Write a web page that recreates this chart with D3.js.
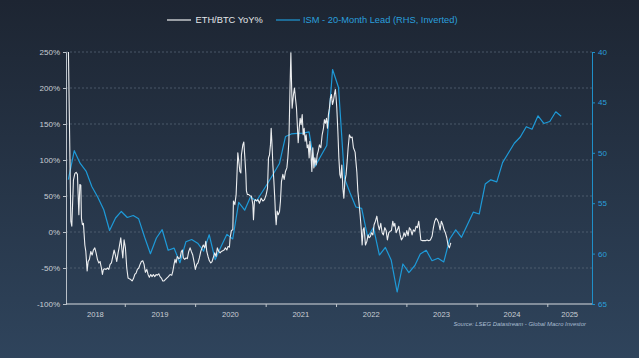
<!DOCTYPE html>
<html><head><meta charset="utf-8">
<script src="https://cdn.jsdelivr.net/npm/d3@7/dist/d3.min.js"></script>
<style>html,body{margin:0;padding:0;background:#26344a;}svg{display:block;}</style>
</head><body><svg id="c" width="639" height="358"></svg>
<script>
// ---- Data ----
const leftTicks = [-100, -50, 0, 50, 100, 150, 200, 250];
const rightTicks = [40, 45, 50, 55, 60, 65];
const yearLabels = [2018, 2019, 2020, 2021, 2022, 2023, 2024, 2025];

// ETH/BTC YoY% (dates as decimal years)
const ethDates = [
2018.199,2018.233,2018.247,2018.270,2018.290,2018.308,2018.327,2018.347,2018.361,2018.375,2018.384,2018.398,2018.412,2018.432,2018.446,2018.465,2018.479,2018.497,2018.517,2018.536,2018.554,2018.574,2018.592,2018.611,2018.631,2018.649,2018.668,2018.682,2018.696,2018.716,2018.734,2018.753,2018.773,2018.791,2018.810,2018.830,2018.848,2018.867,2018.886,2018.905,2018.919,2018.943,2018.957,2018.972,2018.990,
2019.009,2019.028,2019.047,2019.065,2019.085,2019.104,2019.122,2019.142,2019.161,2019.179,2019.199,2019.217,2019.236,2019.256,2019.274,2019.293,2019.313,2019.331,2019.349,2019.369,2019.388,2019.406,2019.426,2019.445,2019.463,2019.483,2019.501,2019.520,2019.540,2019.558,2019.597,2019.619,2019.644,2019.668,2019.682,2019.700,2019.714,2019.729,2019.747,2019.767,2019.786,2019.804,2019.818,2019.832,2019.852,2019.871,2019.889,2019.909,2019.928,2019.946,2019.966,2019.984,
2020.003,2020.023,2020.041,2020.060,2020.080,2020.098,2020.116,2020.136,2020.151,2020.165,2020.183,2020.202,2020.222,2020.240,2020.259,2020.278,2020.297,2020.315,2020.335,2020.354,2020.372,2020.392,2020.411,2020.429,2020.449,2020.467,2020.486,2020.496,2020.514,2020.534,2020.543,2020.563,2020.581,2020.591,2020.605,2020.619,2020.634,2020.648,2020.656,2020.676,2020.690,2020.705,2020.719,2020.727,2020.741,2020.761,2020.780,2020.798,2020.818,2020.827,2020.841,2020.855,2020.875,2020.889,2020.912,2020.936,2020.960,2020.983,
2021.007,2021.026,2021.040,2021.054,2021.068,2021.078,2021.092,2021.102,2021.117,2021.131,2021.139,2021.149,2021.163,2021.178,2021.196,2021.210,2021.224,2021.244,2021.263,2021.281,2021.301,2021.315,2021.330,2021.338,2021.348,2021.358,2021.367,2021.376,2021.395,2021.409,2021.423,2021.438,2021.452,2021.462,2021.476,2021.490,2021.504,2021.519,2021.533,2021.547,2021.561,2021.575,2021.590,2021.604,2021.618,2021.628,2021.642,2021.656,2021.670,2021.685,2021.699,2021.717,2021.732,2021.746,2021.764,2021.784,2021.803,2021.821,2021.835,2021.849,2021.864,2021.878,2021.892,2021.906,2021.920,2021.935,2021.949,2021.963,2021.977,2021.991,
2022.001,2022.011,2022.026,2022.040,2022.054,2022.068,2022.082,2022.097,2022.111,2022.125,2022.143,2022.158,2022.172,2022.190,2022.210,2022.229,2022.247,2022.271,2022.296,2022.310,2022.324,2022.342,2022.357,2022.371,2022.385,2022.399,2022.418,2022.438,2022.456,2022.470,2022.489,2022.503,2022.523,2022.541,2022.560,2022.580,2022.598,2022.616,2022.636,2022.655,2022.673,2022.693,2022.712,2022.730,2022.750,2022.768,2022.787,2022.807,2022.821,2022.835,2022.854,2022.872,2022.892,2022.911,2022.929,2022.949,2022.967,2022.986,
2023.006,2023.024,2023.043,2023.063,2023.081,2023.099,2023.119,2023.138,2023.156,2023.176,2023.190,2023.205,2023.223,2023.247,2023.270,2023.294,2023.318,2023.341,2023.365,2023.384,2023.403,2023.422,2023.440,2023.460,2023.479,2023.497,2023.517,2023.536,2023.554,2023.574,2023.592,2023.611,2023.631
];
const ethValues = [
250,15,8,72,81,83,80,24,66,65,19,10,12,-18,-27,-54,-41,-38,-27,-32,-25,-22,-29,-38,-43,-41,-50,-59,-52,-51,-52,-50,-52,-45,-43,-34,-25,-32,-41,-29,-22,-8,-22,-36,-11,
-22,-50,-64,-65,-66,-68,-65,-59,-57,-52,-50,-45,-41,-40,-45,-56,-52,-59,-63,-59,-62,-59,-62,-59,-60,-58,-62,-64,-68,-68,-64,-62,-59,-60,-55,-45,-38,-43,-34,-37,-36,-27,-25,-36,-38,-36,-37,-27,-22,-27,-32,-41,
-52,-45,-43,-36,-27,-22,-18,-22,-13,-27,-34,-40,-43,-41,-35,-29,-34,-22,-27,-29,-27,-26,-25,-22,-25,-20,-21,-8,2,3,43,38,52,75,110,98,84,82,107,121,125,103,80,57,52,52,50,50,38,17,43,45,43,45,40,47,43,45,
52,61,103,107,121,144,117,93,70,43,24,10,29,24,28,43,70,80,73,84,89,103,126,163,209,249,209,172,191,200,186,172,144,124,144,158,149,163,135,144,126,135,117,121,103,126,112,84,117,89,103,93,107,112,121,117,135,144,156,151,158,144,163,172,186,191,177,182,191,198,
186,172,140,103,80,75,93,61,47,70,80,98,117,135,131,132,117,111,83,57,43,24,6,-18,3,6,-18,-13,-4,-8,-6,-1,-4,10,15,22,10,3,12,-1,-4,6,2,-11,-1,1,2,15,8,12,-1,3,8,-4,-11,-8,-1,-6,
2,-5,6,3,-4,3,1,8,6,15,3,-11,-12,-12,-12,-11,-12,-11,-6,6,15,19,17,12,3,15,10,3,-1,-8,-18,-22,-15
];

// ISM, 20-month lead (monthly, RHS inverted), Mar 2018 – Mar 2025
const ismMonths = [
"2018-03","2018-04","2018-05","2018-06","2018-07","2018-08","2018-09","2018-10","2018-11","2018-12",
"2019-01","2019-02","2019-03","2019-04","2019-05","2019-06","2019-07","2019-08","2019-09","2019-10","2019-11","2019-12",
"2020-01","2020-02","2020-03","2020-04","2020-05","2020-06","2020-07","2020-08","2020-09","2020-10","2020-11","2020-12",
"2021-01","2021-02","2021-03","2021-04","2021-05","2021-06","2021-07","2021-08","2021-09","2021-10","2021-11","2021-12",
"2022-01","2022-02","2022-03","2022-04","2022-05","2022-06","2022-07","2022-08","2022-09","2022-10","2022-11","2022-12",
"2023-01","2023-02","2023-03","2023-04","2023-05","2023-06","2023-07","2023-08","2023-09","2023-10","2023-11","2023-12",
"2024-01","2024-02","2024-03","2024-04","2024-05","2024-06","2024-07","2024-08","2024-09","2024-10","2024-11","2024-12",
"2025-01","2025-02","2025-03"
];
const ismValues = [
52.65,49.79,51.03,51.81,53.34,54.41,55.65,57.71,56.47,55.82,
56.42,56.22,56.55,58.38,60.01,58.45,57.63,59.67,59.46,60.91,58.83,58.60,
58.97,59.76,58.13,60.60,59.33,58.09,58.55,54.91,55.69,54.38,54.78,53.89,
52.95,51.95,51.03,48.38,48.13,48.07,48.04,47.92,51.36,50.32,49.28,41.74,
43.52,52.55,53.94,55.38,55.51,58.35,57.41,60.14,59.39,60.63,63.81,61.03,
61.88,61.18,60.04,59.67,60.71,60.46,60.83,58.55,57.64,58.38,57.11,55.89,
56.07,53.10,52.68,52.88,50.98,49.99,49.05,48.43,47.41,47.66,46.33,47.09,
46.90,45.93,46.37
];

// ---- Helpers ----
function decYear(t) {
  const y = Math.floor(t);
  const a = new Date(y, 0, 1).getTime(), b = new Date(y + 1, 0, 1).getTime();
  return new Date(a + (t - y) * (b - a));
}
function monthDate(s) { const [y, m] = s.split("-").map(Number); return new Date(y, m - 1, 14); }

// ---- Layout ----
const W = 639, H = 358;
const L = 66, R = 592, T = 52, B = 304;
const FONT = "'Liberation Sans', Arial, sans-serif";
const svg = d3.select("#c");

const defs = svg.append("defs");
const g = defs.append("linearGradient").attr("id", "bg").attr("x1", 0).attr("y1", 0).attr("x2", 0).attr("y2", 1);
g.append("stop").attr("offset", "0%").attr("stop-color", "#1d2532");
g.append("stop").attr("offset", "100%").attr("stop-color", "#2f445c");
defs.append("clipPath").attr("id", "plot").append("rect").attr("x", L).attr("y", T - 1).attr("width", R - L).attr("height", B - T + 1);
svg.append("rect").attr("width", W).attr("height", H).attr("fill", "url(#bg)");

const x = d3.scaleTime().domain([new Date(2018, 2, 2), new Date(2025, 7, 21)]).range([L, R]);
const yL = d3.scaleLinear().domain([-100, 250]).range([B, T]);
const yR = d3.scaleLinear().domain([40, 65]).range([T, B]);

// gridlines
svg.append("g").selectAll("line").data(leftTicks.filter(d => d > -100)).join("line")
  .attr("x1", L).attr("x2", R).attr("y1", d => yL(d)).attr("y2", d => yL(d))
  .attr("stroke", "#5c6a7c").attr("stroke-width", 0.7).attr("stroke-dasharray", "2,2");

// left axis
const axL = svg.append("g").attr("transform", `translate(${L},0)`)
  .call(d3.axisLeft(yL).tickValues(leftTicks).tickSize(3).tickPadding(3).tickFormat(d => d + "%"));
axL.select(".domain").attr("stroke", "#b9c0c8").attr("stroke-width", 1);
axL.selectAll(".tick line").attr("stroke", "#b9c0c8");
axL.selectAll("text").attr("fill", "#c9ced4").style("font", "8px " + FONT);

// right axis
const axR = svg.append("g").attr("transform", `translate(${R},0)`)
  .call(d3.axisRight(yR).tickValues(rightTicks).tickSize(3).tickPadding(3));
axR.select(".domain").attr("stroke", "#1f8fc8").attr("stroke-width", 1);
axR.selectAll(".tick line").attr("stroke", "#1f8fc8");
axR.selectAll("text").attr("fill", "#2a9fdc").style("font", "8px " + FONT);

// bottom axis
const yearStarts = yearLabels.slice(1).map(y => new Date(y, 0, 1));
const axB = svg.append("g").attr("transform", `translate(0,${B})`)
  .call(d3.axisBottom(x).tickValues(yearStarts).tickSize(3).tickFormat(""));
axB.select(".domain").attr("stroke", "#d8dce0").attr("stroke-width", 1.2).attr("d", `M${L},0H${R}`);
axB.selectAll(".tick line").attr("stroke", "#c0c6cc");
const dom = x.domain();
svg.append("g").selectAll("text").data(yearLabels).join("text")
  .attr("x", d => {
    const a = Math.max(+dom[0], +new Date(d, 0, 1)), b = Math.min(+dom[1], +new Date(d + 1, 0, 1));
    return x(new Date((a + b) / 2));
  })
  .attr("y", B + 13).attr("text-anchor", "middle").attr("fill", "#c9ced4")
  .style("font", "7.6px " + FONT).text(d => d);

// lines
const plot = svg.append("g").attr("clip-path", "url(#plot)");
const ismData = ismMonths.map((m, i) => [monthDate(m), ismValues[i]]);
plot.append("path").datum(ismData)
  .attr("d", d3.line().x(d => x(d[0])).y(d => yR(d[1])))
  .attr("fill", "none").attr("stroke", "#1e9ad8").attr("stroke-width", 1.2).attr("stroke-linejoin", "round");
const ethData = ethDates.map((t, i) => [decYear(t), ethValues[i]]);
plot.append("path").datum(ethData)
  .attr("d", d3.line().x(d => x(d[0])).y(d => yL(d[1])))
  .attr("fill", "none").attr("stroke", "#eceef0").attr("stroke-width", 1.1).attr("stroke-linejoin", "round");

// legend
const lg = svg.append("g").style("font", "9.3px " + FONT);
lg.append("line").attr("x1", 167).attr("x2", 191).attr("y1", 20).attr("y2", 20).attr("stroke", "#eceef0").attr("stroke-width", 1.2);
lg.append("text").attr("x", 195.5).attr("y", 23.3).attr("fill", "#e4e7ea").text("ETH/BTC YoY%");
lg.append("line").attr("x1", 276).attr("x2", 300).attr("y1", 20).attr("y2", 20).attr("stroke", "#1e9ad8").attr("stroke-width", 1.2);
lg.append("text").attr("x", 303).attr("y", 23.3).attr("fill", "#2a9fdc").text("ISM - 20-Month Lead (RHS, Inverted)");

// source
svg.append("text").attr("x", 586).attr("y", 325.5).attr("text-anchor", "end")
  .attr("fill", "#a9bdd2").style("font", "italic 5.9px " + FONT)
  .text("Source: LSEG Datastream - Global Macro Investor");
</script></body></html>
